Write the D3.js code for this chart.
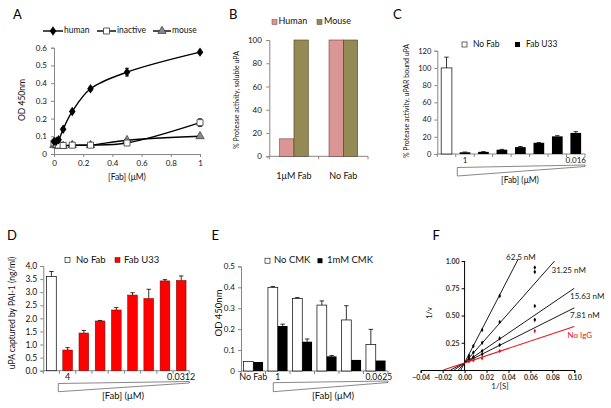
<!DOCTYPE html>
<html><head><meta charset="utf-8">
<script src="https://cdn.jsdelivr.net/npm/d3@7"></script>
<style>body{margin:0;background:#fff} svg{display:block} text{font-family:Lato,"Open Sans",sans-serif}</style>
</head><body>
<svg id="c" width="611" height="408"></svg>
<script>
// ---------- DATA ----------
// Panel A
const aDose = [0, 0.0156, 0.03125, 0.0625, 0.125, 0.25, 0.5, 1];
const aHuman = [0.07, 0.072, 0.08, 0.14, 0.24, 0.368, 0.462, 0.575];
const aHumanErr = [0.004, 0.004, 0.004, 0.005, 0.006, 0.008, 0.022, 0.006];
const aInactive = [0.062, 0.056, 0.05, 0.048, 0.05, 0.05, 0.062, 0.177];
const aInactiveErr = [0.004, 0.004, 0.004, 0.004, 0.004, 0.004, 0.006, 0.022];
const aMouse = [0.05, 0.048, 0.046, 0.045, 0.05, 0.05, 0.078, 0.1];
const aXTicks = [0, 0.2, 0.4, 0.6, 0.8, 1];
const aYTicks = [0, 0.1, 0.2, 0.3, 0.4, 0.5, 0.6];
// Panel B
const bCats = ["1μM Fab", "No Fab"];
const bHuman = [15, 100];
const bMouse = [100, 100];
const bYTicks = [0, 20, 40, 60, 80, 100];
// Panel C
const cCats = ["none", "c1", "c2", "c3", "c4", "c5", "c6", "c7"];
const cNoFab = [100];
const cNoFabErr = [12.5];
const cFab = [2, 2.5, 5, 8, 13, 20.5, 24.5];
const cFabErr = [0.3, 0.3, 0.4, 0.7, 0.3, 0.8, 1.5];
const cYTicks = [0, 20, 40, 60, 80, 100, 120];
const cEndLabels = ["1", "0.016"];
// Panel D
const dCats = ["none", "d1", "d2", "d3", "d4", "d5", "d6", "d7", "d8"];
const dNoFab = [3.6];
const dNoFabErr = [0.19];
const dFab = [0.79, 1.44, 1.9, 2.32, 2.89, 2.76, 3.43, 3.45];
const dFabErr = [0.09, 0.1, 0.02, 0.09, 0.09, 0.35, 0.05, 0.17];
const dYTicks = [0, 0.5, 1, 1.5, 2, 2.5, 3, 3.5, 4];
const dEndLabels = ["4", "0.0312"];
// Panel E
const eCats = ["No Fab", "e1", "e2", "e3", "e4", "e5"];
const eNoCMK = [0.045, 0.4, 0.347, 0.315, 0.244, 0.127];
const eNoCMKErr = [0, 0.004, 0.004, 0.02, 0.068, 0.072];
const eCMK = [0.043, 0.215, 0.14, 0.07, 0.053, 0.05];
const eCMKErr = [0, 0.009, 0.013, 0.004, 0, 0];
const eYTicks = [0, 0.1, 0.2, 0.3, 0.4, 0.5];
const eEndLabels = ["1", "0.0625"];
// Panel F
const fX = [0.004, 0.008, 0.016, 0.032, 0.064];
const fNoIgG = [0.08, 0.09, 0.107, 0.174, 0.358];
const f781 = [0.09, 0.11, 0.144, 0.23, 0.46];
const f1563 = [0.1, 0.12, 0.174, 0.29, 0.587];
const f3125 = [0.11, 0.16, 0.25, 0.44, 0.90];
const f3125b = [null, null, null, null, 0.94];
const f625 = [0.13, 0.22, 0.367, 0.68, null];
const fLineNames = ["62.5 nM", "31.25 nM", "15.63 nM", "7.81 nM", "No IgG"];
const fLineStart = [[-0.0034, 0], [-0.0057, 0], [-0.0095, 0], [-0.0129, 0], [-0.0194, 0]];
const fLineEnd = [[0.049, 1.02], [0.082, 1.0], [0.10, 0.75], [0.10, 0.57], [0.10, 0.40]];
const fXTicks = [-0.04, -0.02, 0, 0.02, 0.04, 0.06, 0.08, 0.10];
const fYTicks = [0.25, 0.5, 0.75, 1.0];

// ---------- HELPERS ----------
const svg = d3.select("#c");
const AX = "#868686";
function styleAxis(g, color, fs, ff) {
  g.select(".domain").attr("stroke", color);
  g.selectAll(".tick line").attr("stroke", color);
  g.selectAll(".tick text").attr("font-size", fs).attr("fill", "#111").attr("font-family", ff || "Lato, sans-serif");
}
function panelLetter(t, x, y) {
  svg.append("text").attr("x", x).attr("y", y).text(t)
    .attr("font-family", "Liberation Sans, Arial, sans-serif").attr("font-size", 13).attr("fill", "#000");
}
function yTitle(t, x, y, fs) {
  svg.append("text").attr("transform", `translate(${x},${y}) rotate(-90)`)
    .attr("text-anchor", "middle").attr("dominant-baseline", "middle")
    .attr("font-size", fs).attr("fill", "#111").text(t);
}
function label(t, x, y, fs, anchor, color) {
  return svg.append("text").attr("x", x).attr("y", y).attr("text-anchor", anchor || "middle")
    .attr("dominant-baseline", "middle").attr("font-size", fs).attr("fill", color || "#111").text(t);
}
function errBar(g, x, y0, y1, cap) {
  g.append("line").attr("x1", x).attr("x2", x).attr("y1", y0).attr("y2", y1).attr("stroke", "#000").attr("stroke-width", 0.8);
  g.append("line").attr("x1", x - cap).attr("x2", x + cap).attr("y1", y1).attr("y2", y1).attr("stroke", "#000").attr("stroke-width", 0.8);
}
function wedge(x0, x1, yTop0, yTop1, yBot0, yBot1) {
  svg.append("path").attr("d", `M${x0},${yTop0}L${x1},${yTop1}L${x1},${yBot1}L${x0},${yBot0}Z`)
    .attr("fill", "none").attr("stroke", "#555").attr("stroke-width", 0.7);
}
function bandTicks(g, x, y0, len, color) {
  const step = x.step();
  const r = x.range();
  const n = x.domain().length;
  for (let i = 0; i <= n; i++) {
    const px = r[0] + i * step;
    g.append("line").attr("x1", px).attr("x2", px).attr("y1", y0).attr("y2", y0 + len).attr("stroke", color);
  }
}

// ---------- PANEL A ----------
{
  const g = svg.append("g");
  const x = d3.scaleLinear().domain([0, 1]).range([54, 200]);
  const y = d3.scaleLinear().domain([0, 0.6]).range([154, 47.7]);
  const fmt = d => d === 0 ? "0" : (d === 1 ? "1" : d3.format(".1f")(d));
  const gx = g.append("g").attr("transform", "translate(0,154)")
    .call(d3.axisBottom(x).tickValues(aXTicks).tickSize(3).tickPadding(3).tickFormat(fmt));
  styleAxis(gx, AX, 8);
  const gy = g.append("g").attr("transform", "translate(54,0)")
    .call(d3.axisLeft(y).tickValues(aYTicks).tickSize(3).tickPadding(4).tickFormat(fmt));
  styleAxis(gy, AX, 8);
  const line = d3.line().x((d, i) => x(aDose[i])).y(d => y(d)).curve(d3.curveCatmullRom.alpha(0.5));
  [aMouse, aInactive, aHuman].forEach(s => g.append("path").attr("d", line(s)).attr("fill", "none").attr("stroke", "#000").attr("stroke-width", 1.4));
  aHuman.forEach((v, i) => { errBar(g, x(aDose[i]), y(v), y(v + aHumanErr[i]), 2); errBar(g, x(aDose[i]), y(v), y(v - aHumanErr[i]), 2); });
  aInactive.forEach((v, i) => { errBar(g, x(aDose[i]), y(v), y(v + aInactiveErr[i]), 2); errBar(g, x(aDose[i]), y(v), y(v - aInactiveErr[i]), 2); });
  const sym = (type, size) => d3.symbol().type(type).size(size)();
  aMouse.forEach((v, i) => g.append("path").attr("d", sym(d3.symbolTriangle, 30)).attr("transform", `translate(${x(aDose[i])},${y(v)})`).attr("fill", "#8a8a8a").attr("stroke", "#333").attr("stroke-width", 0.7));
  aInactive.forEach((v, i) => g.append("path").attr("d", sym(d3.symbolSquare, 36)).attr("transform", `translate(${x(aDose[i])},${y(v)})`).attr("fill", "#fff").attr("stroke", "#333").attr("stroke-width", 0.8));
  aHuman.forEach((v, i) => g.append("path").attr("d", sym(d3.symbolDiamond, 26)).attr("transform", `translate(${x(aDose[i])},${y(v)}) scale(1.2,1)`).attr("fill", "#000"));
  // legend
  const ly = 31;
  const items = [
    { x0: 43, x1: 63, t: "human", draw: (cx) => g.append("path").attr("d", sym(d3.symbolDiamond, 26)).attr("transform", `translate(${cx},${ly}) scale(1.2,1)`).attr("fill", "#000") },
    { x0: 97, x1: 116, t: "inactive", draw: (cx) => g.append("path").attr("d", sym(d3.symbolSquare, 36)).attr("transform", `translate(${cx},${ly})`).attr("fill", "#fff").attr("stroke", "#333").attr("stroke-width", 0.8) },
    { x0: 153, x1: 171, t: "mouse", draw: (cx) => g.append("path").attr("d", sym(d3.symbolTriangle, 30)).attr("transform", `translate(${cx},${ly})`).attr("fill", "#8a8a8a").attr("stroke", "#333").attr("stroke-width", 0.7) }
  ];
  items.forEach(it => {
    g.append("line").attr("x1", it.x0).attr("x2", it.x1).attr("y1", ly).attr("y2", ly).attr("stroke", "#000").attr("stroke-width", 1.4);
    it.draw((it.x0 + it.x1) / 2);
    label(it.t, it.x1 + 1, ly, 8.5, "start");
  });
  label("[Fab] (μM)", 127, 178, 8.5);
  yTitle("OD 450nm", 23, 100, 8.5);
  panelLetter("A", 13, 19);
}

// ---------- PANEL B ----------
{
  const g = svg.append("g");
  const x = d3.scaleBand().domain(bCats).range([269.3, 368]);
  const y = d3.scaleLinear().domain([0, 100]).range([156.3, 40]);
  const gy = g.append("g").attr("transform", "translate(269.3,0)").call(d3.axisLeft(y).tickValues(bYTicks).tickSize(3).tickPadding(4.5));
  styleAxis(gy, AX, 8);
  g.append("line").attr("x1", 269.3).attr("x2", 368).attr("y1", 156.3).attr("y2", 156.3).attr("stroke", AX);
  bandTicks(g, x, 156.3, 3, AX);
  const sub = d3.scaleBand().domain(["h", "m"]).range([0, x.bandwidth()]).paddingOuter(0.725).paddingInner(0);
  bCats.forEach((c, i) => {
    g.append("rect").attr("x", x(c) + sub("h")).attr("width", sub.bandwidth()).attr("y", y(bHuman[i])).attr("height", y(0) - y(bHuman[i]))
      .attr("fill", "#D99694").attr("stroke", "#6e4040").attr("stroke-width", 0.6);
    g.append("rect").attr("x", x(c) + sub("m")).attr("width", sub.bandwidth()).attr("y", y(bMouse[i])).attr("height", y(0) - y(bMouse[i]))
      .attr("fill", "#948A54").attr("stroke", "#4a4020").attr("stroke-width", 0.6);
    label(c, x(c) + x.bandwidth() / 2, 177, 9);
  });
  g.append("rect").attr("x", 272).attr("y", 19.5).attr("width", 5).attr("height", 5).attr("fill", "#D99694").attr("stroke", "#6e4040").attr("stroke-width", 0.5);
  label("Human", 278.5, 22, 9, "start");
  g.append("rect").attr("x", 317).attr("y", 19.5).attr("width", 5).attr("height", 5).attr("fill", "#948A54").attr("stroke", "#4a4020").attr("stroke-width", 0.5);
  label("Mouse", 324, 22, 9, "start");
  yTitle("% Protease activity, soluble uPA", 237.5, 100, 7);
  panelLetter("B", 229, 19);
}

// ---------- PANEL C ----------
{
  const g = svg.append("g");
  const x = d3.scaleBand().domain(cCats).range([437.3, 585]).paddingInner(0.42).paddingOuter(0.21);
  const y = d3.scaleLinear().domain([0, 120]).range([154, 50.7]);
  const gy = g.append("g").attr("transform", "translate(437.3,0)").call(d3.axisLeft(y).tickValues(cYTicks).tickSize(3).tickPadding(3));
  styleAxis(gy, AX, 7.5);
  g.append("line").attr("x1", 437.3).attr("x2", 585).attr("y1", 154).attr("y2", 154).attr("stroke", AX);
  bandTicks(g, x, 154, 3, AX);
  const c0 = cCats[0];
  g.append("rect").attr("x", x(c0)).attr("width", x.bandwidth()).attr("y", y(cNoFab[0])).attr("height", y(0) - y(cNoFab[0]))
    .attr("fill", "#fff").attr("stroke", "#000").attr("stroke-width", 0.7);
  errBar(g, x(c0) + x.bandwidth() / 2, y(cNoFab[0]), y(cNoFab[0] + cNoFabErr[0]), 2.2);
  cFab.forEach((v, i) => {
    const c = cCats[i + 1];
    g.append("rect").attr("x", x(c)).attr("width", x.bandwidth()).attr("y", y(v)).attr("height", y(0) - y(v)).attr("fill", "#000");
    errBar(g, x(c) + x.bandwidth() / 2, y(v), y(v + cFabErr[i]), 2.2);
  });
  label(cEndLabels[0], x(cCats[1]) + x.bandwidth() / 2, 161, 8);
  label(cEndLabels[1], x(cCats[7]) + x.bandwidth() / 2, 161, 8);
  wedge(457.3, 585, 167.5, 165, 176, 166.5);
  label("[Fab] (μM)", 520, 180.5, 8.5);
  g.append("rect").attr("x", 462).attr("y", 42).attr("width", 5).attr("height", 5).attr("fill", "#fff").attr("stroke", "#000").attr("stroke-width", 0.6);
  label("No Fab", 473, 44.5, 8.5, "start");
  g.append("rect").attr("x", 515).attr("y", 42).attr("width", 5).attr("height", 5).attr("fill", "#000");
  label("Fab U33", 526, 44.5, 8.5, "start");
  yTitle("% Protease activity, uPAR bound uPA", 407.5, 101, 7);
  panelLetter("C", 393, 19);
}

// ---------- PANEL D ----------
{
  const g = svg.append("g");
  const x = d3.scaleBand().domain(dCats).range([43.3, 189.3]).paddingInner(0.4).paddingOuter(0.2);
  const y = d3.scaleLinear().domain([0, 4]).range([370.7, 266]);
  const gy = g.append("g").attr("transform", "translate(43.3,0)").call(d3.axisLeft(y).tickValues(dYTicks).tickSize(3).tickPadding(3));
  styleAxis(gy, AX, 8.5);
  g.append("line").attr("x1", 43.3).attr("x2", 189.3).attr("y1", 370.7).attr("y2", 370.7).attr("stroke", AX);
  bandTicks(g, x, 370.7, 3, AX);
  const c0 = dCats[0];
  g.append("rect").attr("x", x(c0)).attr("width", x.bandwidth()).attr("y", y(dNoFab[0])).attr("height", y(0) - y(dNoFab[0]))
    .attr("fill", "#fff").attr("stroke", "#000").attr("stroke-width", 0.7);
  errBar(g, x(c0) + x.bandwidth() / 2, y(dNoFab[0]), y(dNoFab[0] + dNoFabErr[0]), 2.2);
  dFab.forEach((v, i) => {
    const c = dCats[i + 1];
    g.append("rect").attr("x", x(c)).attr("width", x.bandwidth()).attr("y", y(v)).attr("height", y(0) - y(v))
      .attr("fill", "#ff0000").attr("stroke", "#7a0000").attr("stroke-width", 0.5);
    errBar(g, x(c) + x.bandwidth() / 2, y(v), y(v + dFabErr[i]), 2.2);
  });
  label(dEndLabels[0], x(dCats[1]) + x.bandwidth() / 2, 378, 9);
  label(dEndLabels[1], x(dCats[8]) + x.bandwidth() / 2, 378, 9);
  wedge(58.3, 189.3, 383.5, 381.5, 391.7, 383);
  label("[Fab] (μM)", 123, 397, 9.5);
  g.append("rect").attr("x", 65).attr("y", 257.5).attr("width", 5).attr("height", 5).attr("fill", "#fff").attr("stroke", "#000").attr("stroke-width", 0.6);
  label("No Fab", 76, 260.5, 9.5, "start");
  g.append("rect").attr("x", 115).attr("y", 257.5).attr("width", 5).attr("height", 5).attr("fill", "#ff0000").attr("stroke", "#7a0000").attr("stroke-width", 0.5);
  label("Fab U33", 124, 260.5, 9.5, "start");
  yTitle("uPA captured by PAI-1 (ng/ml)", 12.7, 313, 8.5);
  panelLetter("D", 7, 240);
}

// ---------- PANEL E ----------
{
  const g = svg.append("g");
  const x = d3.scaleBand().domain(eCats).range([241, 388]).paddingInner(0.2).paddingOuter(0.1);
  const y = d3.scaleLinear().domain([0, 0.5]).range([371, 266.4]);
  const fmt = d => d === 0 ? "0" : d3.format(".1f")(d);
  const gy = g.append("g").attr("transform", "translate(241,0)").call(d3.axisLeft(y).tickValues(eYTicks).tickSize(3).tickPadding(3).tickFormat(fmt));
  styleAxis(gy, AX, 8);
  g.append("line").attr("x1", 241).attr("x2", 388).attr("y1", 371).attr("y2", 371).attr("stroke", AX);
  const step = (388 - 241) / eCats.length;
  for (let i = 0; i <= eCats.length; i++) g.append("line").attr("x1", 241 + i * step).attr("x2", 241 + i * step).attr("y1", 371).attr("y2", 374).attr("stroke", AX);
  const sub = d3.scaleBand().domain(["n", "c"]).range([0, x.bandwidth()]);
  eCats.forEach((c, i) => {
    g.append("rect").attr("x", x(c) + sub("n")).attr("width", sub.bandwidth()).attr("y", y(eNoCMK[i])).attr("height", y(0) - y(eNoCMK[i]))
      .attr("fill", "#fff").attr("stroke", "#000").attr("stroke-width", 0.7);
    g.append("rect").attr("x", x(c) + sub("c")).attr("width", sub.bandwidth()).attr("y", y(eCMK[i])).attr("height", y(0) - y(eCMK[i])).attr("fill", "#000");
    if (eNoCMKErr[i] > 0) errBar(g, x(c) + sub("n") + sub.bandwidth() / 2, y(eNoCMK[i]), y(eNoCMK[i] + eNoCMKErr[i]), 2.2);
    if (eCMKErr[i] > 0) errBar(g, x(c) + sub("c") + sub.bandwidth() / 2, y(eCMK[i]), y(eCMK[i] + eCMKErr[i]), 2.2);
  });
  label(eCats[0], x(eCats[0]) + x.bandwidth() / 2, 378, 9);
  label(eEndLabels[0], x(eCats[1]) + sub("c"), 378, 8.5);
  label(eEndLabels[1], x(eCats[5]) + x.bandwidth() / 2 + 3, 378, 8.5);
  wedge(273.3, 388, 382.7, 381, 391.7, 382.5);
  label("[Fab] (μM)", 333, 397, 9.5);
  g.append("rect").attr("x", 265).attr("y", 258.2).attr("width", 5).attr("height", 5).attr("fill", "#fff").attr("stroke", "#000").attr("stroke-width", 0.6);
  label("No CMK", 274, 260.7, 9.5, "start");
  g.append("rect").attr("x", 317.5).attr("y", 258.2).attr("width", 5).attr("height", 5).attr("fill", "#000");
  label("1mM CMK", 327, 260.7, 9.5, "start");
  yTitle("OD 450nm", 219.3, 313, 9.5);
  panelLetter("E", 211.5, 240);
}

// ---------- PANEL F ----------
{
  const g = svg.append("g");
  const ff = "Liberation Sans, Arial, sans-serif";
  const x = d3.scaleLinear().domain([-0.04, 0.10]).range([420.7, 574.3]);
  const y = d3.scaleLinear().domain([0, 1]).range([370, 261]);
  const gx = g.append("g").attr("transform", "translate(0,370)")
    .call(d3.axisBottom(x).tickValues(fXTicks).tickSize(3).tickPadding(2).tickFormat(d3.format(".2f")));
  styleAxis(gx, "#000", 7, ff);
  gx.selectAll(".tick text").attr("font-weight", "bold").attr("fill", "#333");
  const gy = g.append("g").attr("transform", `translate(${x(0)},0)`)
    .call(d3.axisLeft(y).tickValues(fYTicks).tickSize(3).tickPadding(2).tickFormat(d3.format(".2f")));
  gy.select(".domain").attr("d", `M-0,${y(1)}V${y(0)}`);
  styleAxis(gy, "#000", 7, ff);
  gy.selectAll(".tick text").attr("font-weight", "bold").attr("fill", "#333");
  const colors = ["#000", "#000", "#000", "#000", "#e8141c"];
  fLineNames.forEach((n, i) => {
    g.append("line").attr("x1", x(fLineStart[i][0])).attr("y1", y(fLineStart[i][1])).attr("x2", x(fLineEnd[i][0])).attr("y2", y(fLineEnd[i][1]))
      .attr("stroke", colors[i]).attr("stroke-width", i === 4 ? 1.1 : 0.9);
  });
  const series = [[f625, "#000"], [f3125, "#000"], [f3125b, "#000"], [f1563, "#000"], [f781, "#000"], [fNoIgG, "#e8141c"]];
  series.forEach(([s, col]) => s.forEach((v, i) => {
    if (v == null) return;
    g.append("path").attr("d", d3.symbol().type(d3.symbolDiamond).size(6)()).attr("transform", `translate(${x(fX[i])},${y(v)})`).attr("fill", col);
  }));
  const lab = [[506, 257.5], [551.5, 271], [570, 297], [570, 316], [567.5, 336]];
  fLineNames.forEach((n, i) => {
    svg.append("text").attr("x", lab[i][0]).attr("y", lab[i][1]).attr("dominant-baseline", "middle")
      .attr("font-family", "Open Sans, sans-serif").attr("font-size", 8).attr("fill", i === 4 ? "#e8141c" : "#222").text(n);
  });
  svg.append("text").attr("x", 500).attr("y", 387).attr("text-anchor", "middle").attr("dominant-baseline", "middle")
    .attr("font-family", "Open Sans, sans-serif").attr("font-size", 8).attr("fill", "#222").text("1/[S]");
  svg.append("text").attr("transform", "translate(430,313) rotate(-90)").attr("text-anchor", "middle").attr("dominant-baseline", "middle")
    .attr("font-family", "Open Sans, sans-serif").attr("font-size", 7.5).attr("fill", "#222").text("1/v");
  panelLetter("F", 432.5, 240);
}
</script>
</body></html>
